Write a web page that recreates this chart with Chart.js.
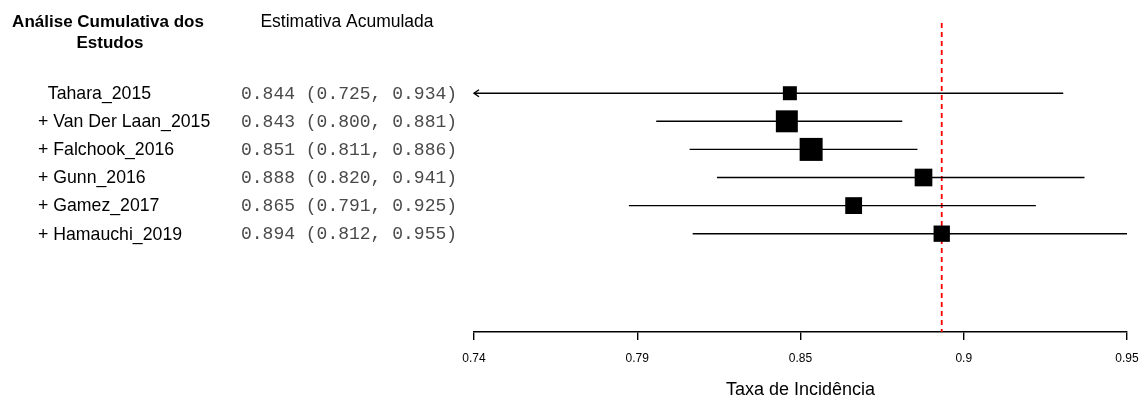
<!DOCTYPE html>
<html>
<head>
<meta charset="utf-8">
<script src="https://cdn.jsdelivr.net/npm/chart.js@4.4.1/dist/chart.umd.min.js"></script>
<style>
  html, body { margin: 0; padding: 0; background: #ffffff; }
  #wrap { width: 1146px; height: 399px; }
</style>
</head>
<body>
<div id="wrap"><canvas id="forest" width="1146" height="399"></canvas></div>
<script>
// Cumulative meta-analysis: pooled incidence after adding each study
const studies   = ['Tahara_2015', 'Van Der Laan_2015', 'Falchook_2016', 'Gunn_2016', 'Gamez_2017', 'Hamauchi_2019'];
const estimates = [0.844, 0.843, 0.851, 0.888, 0.865, 0.894];
const ciLower   = [0.725, 0.800, 0.811, 0.820, 0.791, 0.812];
const ciUpper   = [0.934, 0.881, 0.886, 0.941, 0.925, 0.955];
const tickLabels = ['0.74', '0.79', '0.85', '0.9', '0.95'];
const axisRange  = [0.74, 0.955];

const FONT = '"Liberation Sans", Arial, sans-serif';
const MONO = '"Liberation Mono", "Courier New", monospace';

const n = studies.length;
const rows = studies.map((_, i) => n - i);          // top row first
const pooled = estimates[n - 1];                     // final cumulative estimate

// box side grows with precision (inverse CI width)
const precision = ciLower.map((lo, i) => 1 / (ciUpper[i] - lo));
const pMin = Math.min(...precision), pMax = Math.max(...precision);
const boxSide = precision.map(p => 14 + (p - pMin) / (pMax - pMin) * 9);

const fmt = v => v.toFixed(3);
const rowText = estimates.map((e, i) => `${fmt(e)} (${fmt(ciLower[i])}, ${fmt(ciUpper[i])})`);
const rowLabel = studies.map((s, i) => (i === 0 ? '  ' : '+ ') + s);

const datasets = [];
// squares on top
datasets.push({
  type: 'scatter',
  data: estimates.map((e, i) => ({ x: e, y: rows[i] })),
  pointStyle: 'rect',
  pointRadius: boxSide.map(s => s / Math.SQRT2),
  pointHoverRadius: boxSide.map(s => s / Math.SQRT2),
  backgroundColor: '#000000',
  borderWidth: 0
});
// confidence intervals
estimates.forEach((e, i) => {
  datasets.push({
    type: 'line',
    data: [{ x: ciLower[i], y: rows[i] }, { x: ciUpper[i], y: rows[i] }],
    borderColor: '#000000',
    borderWidth: 1.4,
    pointRadius: 0,
    fill: false
  });
});
// reference line at the final pooled estimate
datasets.push({
  type: 'line',
  data: [{ x: pooled, y: 8.5 }, { x: pooled, y: -2.5 }],
  borderColor: '#ff0000',
  borderWidth: 1.8,
  borderDash: [5, 4],
  pointRadius: 0,
  fill: false
});

const annotations = {
  id: 'annotations',
  afterDatasetsDraw(chart) {
    const { ctx, scales: { x, y } } = chart;
    ctx.save();
    // arrows for intervals running past the axis
    ctx.strokeStyle = '#000000';
    ctx.lineWidth = 1.4;
    ciLower.forEach((lo, i) => {
      if (lo < x.min) {
        const px = x.getPixelForValue(x.min), py = y.getPixelForValue(rows[i]);
        ctx.beginPath();
        ctx.moveTo(px + 5, py - 3.5);
        ctx.lineTo(px, py);
        ctx.lineTo(px + 5, py + 3.5);
        ctx.stroke();
      }
    });
    ctx.restore();
  },
  afterDraw(chart) {
    const { ctx, scales: { y } } = chart;
    ctx.save();
    ctx.fillStyle = '#000000';
    ctx.textBaseline = 'middle';
    ctx.textAlign = 'center';
    ctx.font = 'bold 17px ' + FONT;
    ctx.fillText('Análise Cumulativa dos', 108, 22);
    ctx.fillText('Estudos', 110, 43);
    ctx.font = '17.5px ' + FONT;
    ctx.fillText('Estimativa Acumulada', 347, 22);

    ctx.textAlign = 'left';
    rowLabel.forEach((lab, i) => {
      const py = y.getPixelForValue(rows[i]);
      ctx.font = '17.7px ' + FONT;
      ctx.fillStyle = '#000000';
      ctx.fillText(lab, 38, py + 1);
      ctx.font = '18px ' + MONO;
      ctx.fillStyle = '#4a4a4a';
      ctx.fillText(rowText[i], 241, py + 1);
    });
    ctx.restore();
  }
};

new Chart(document.getElementById('forest'), {
  type: 'scatter',
  data: { datasets },
  options: {
    responsive: false,
    animation: false,
    events: [],
    layout: { padding: { left: 474, right: 19, top: 23, bottom: 0 } },
    plugins: { legend: { display: false }, tooltip: { enabled: false } },
    scales: {
      x: {
        type: 'linear',
        position: 'bottom',
        min: axisRange[0],
        max: axisRange[1],
        afterBuildTicks(scale) {
          const step = (axisRange[1] - axisRange[0]) / (tickLabels.length - 1);
          scale.ticks = tickLabels.map((_, i) => ({ value: axisRange[0] + i * step }));
        },
        afterFit(scale) {
          scale.height = 67;
          scale.paddingLeft = 0;
          scale.paddingRight = 0;
        },
        border: { display: true, color: '#000000', width: 1.4 },
        grid: { drawOnChartArea: false, drawTicks: true, tickLength: 8, color: '#000000', lineWidth: 1.4 },
        ticks: {
          autoSkip: false,
          maxRotation: 0,
          padding: 11,
          color: '#000000',
          font: { family: FONT, size: 12 },
          callback: (v, i) => tickLabels[i]
        },
        title: {
          display: true,
          text: 'Taxa de Incidência',
          color: '#000000',
          font: { family: FONT, size: 18, lineHeight: 1.0 },
          padding: { top: 0, bottom: 0 }
        }
      },
      y: {
        type: 'linear',
        display: false,
        min: -2.5,
        max: 8.5
      }
    }
  },
  plugins: [annotations]
});
</script>
</body>
</html>
